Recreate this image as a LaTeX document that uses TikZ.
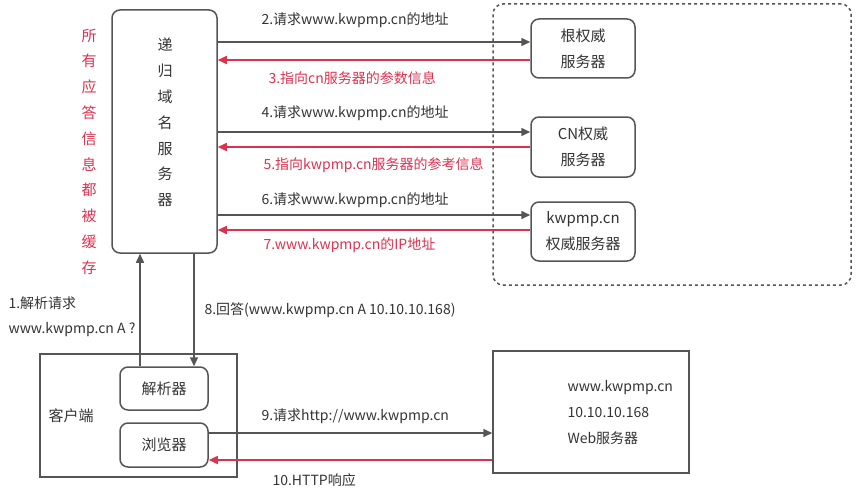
\documentclass[tikz,border=0pt]{standalone}
\usepackage{fontspec}
\setmainfont{Noto Sans CJK SC}
\usetikzlibrary{arrows.meta,calc}
\definecolor{ln}{RGB}{85,85,85}
\definecolor{rd}{RGB}{220,50,80}
\definecolor{tx}{RGB}{51,51,51}
\begin{document}
\begin{tikzpicture}[x=1pt,y=-1pt,
	box/.style={draw=ln,line width=1.5pt,rounded corners=8pt,text=tx,align=center,font=\fontsize{15}{26}\selectfont},
	sqbox/.style={draw=ln,line width=1.5pt,text=tx},
	arr/.style={draw=ln,line width=1.5pt,-{Triangle[length=9pt,width=8pt]}},
	rarr/.style={draw=rd,line width=1.5pt,-{Triangle[length=9pt,width=8pt]}},
	lbl/.style={anchor=west,text=tx,font=\fontsize{14}{16}\selectfont},
	rlbl/.style={anchor=west,text=rd,font=\fontsize{14}{16}\selectfont}]
	\useasboundingbox (0,0) rectangle (858,500);
	% servers
	\node[box,minimum width=105pt,minimum height=243pt] (rec) at (164.5,131.5) {};
	\node[text=tx,align=center,font=\fontsize{15}{25.8}\selectfont] (rectxt) at (165,122.5) {递\\归\\域\\名\\服\\务\\器};
	\node[text=rd,align=center,font=\fontsize{15}{25.8}\selectfont] (cache) at (89,151.5) {所\\有\\应\\答\\信\\息\\都\\被\\缓\\存};
	\node[draw=ln,line width=1.5pt,dashed,rounded corners=10pt,minimum width=358pt,minimum height=281pt] (auth) at (672,144.5) {};
	\node[box,minimum width=104pt,minimum height=59pt] (root) at (583,48.5) {根权威\\服务器};
	\node[box,minimum width=104pt,minimum height=60pt] (cn) at (583,147) {CN权威\\服务器};
	\node[box,minimum width=104pt,minimum height=59pt] (kw) at (583,231.5) {kwpmp.cn\\权威服务器};
	% client and web
	\node[sqbox,minimum width=197pt,minimum height=123pt] (cli) at (138.5,415.5) {};
	\node[text=tx,font=\fontsize{15}{18}\selectfont] (clitxt) at (71,416) {客户端};
	\node[box,minimum width=88pt,minimum height=43pt] (res) at (164,388.5) {解析器};
	\node[box,minimum width=88pt,minimum height=44pt] (bro) at (164,445) {浏览器};
	\node[sqbox,minimum width=196pt,minimum height=122pt] (web) at (591,412) {};
	\node[lbl,align=left,font=\fontsize{14}{26}\selectfont] (webtxt) at (564,412) {www.kwpmp.cn\\10.10.10.168\\Web服务器};
	% arrows
	\coordinate (r2) at ($(root.west)+(0,-6.5)$);
	\coordinate (r3) at ($(root.west)+(0,11.5)$);
	\coordinate (r4) at ($(cn.west)+(0,-15)$);
	\coordinate (r5) at ($(cn.west)+(0,0)$);
	\coordinate (r6) at ($(kw.west)+(0,-16.5)$);
	\coordinate (r7) at ($(kw.west)+(0,-1.5)$);
	\draw[arr] (rec.east |- r2) -- (r2);
	\draw[rarr] (r3) -- (rec.east |- r3);
	\draw[arr] (rec.east |- r4) -- (r4);
	\draw[rarr] (r5) -- (rec.east |- r5);
	\draw[arr] (rec.east |- r6) -- (r6);
	\draw[rarr] (r7) -- (rec.east |- r7);
	\coordinate (p1) at ($(res.north)+(-24,0)$);
	\coordinate (p8) at ($(res.north)+(30,0)$);
	\draw[arr] (p1) -- (p1 |- rec.south);
	\draw[arr] (p8 |- rec.south) -- (p8);
	\coordinate (w9) at ($(bro.east)+(0,-12)$);
	\coordinate (w10) at ($(bro.east)+(0,15)$);
	\draw[arr] (w9) -- (web.west |- w9);
	\draw[rarr] (web.west |- w10) -- (w10);
	% labels
	\node[lbl] (l2) at (258,20) {2.请求www.kwpmp.cn的地址};
	\node[rlbl] (l3) at (265,78) {3.指向cn服务器的参数信息};
	\node[lbl] (l4) at (258,113) {4.请求www.kwpmp.cn的地址};
	\node[rlbl] (l5) at (260,165) {5.指向kwpmp.cn服务器的参考信息};
	\node[lbl] (l6) at (258,200) {6.请求www.kwpmp.cn的地址};
	\node[rlbl] (l7) at (260,245) {7.www.kwpmp.cn的IP地址};
	\node[lbl] (l1a) at (5,303) {1.解析请求};
	\node[lbl] (l1b) at (5,330) {www.kwpmp.cn A ?};
	\node[lbl] (l8) at (201,310) {8.回答(www.kwpmp.cn A 10.10.10.168)};
	\node[lbl] (l9) at (258,416) {9.请求http://www.kwpmp.cn};
	\node[lbl] (l10) at (269,480) {10.HTTP响应};
\end{tikzpicture}
\end{document}
